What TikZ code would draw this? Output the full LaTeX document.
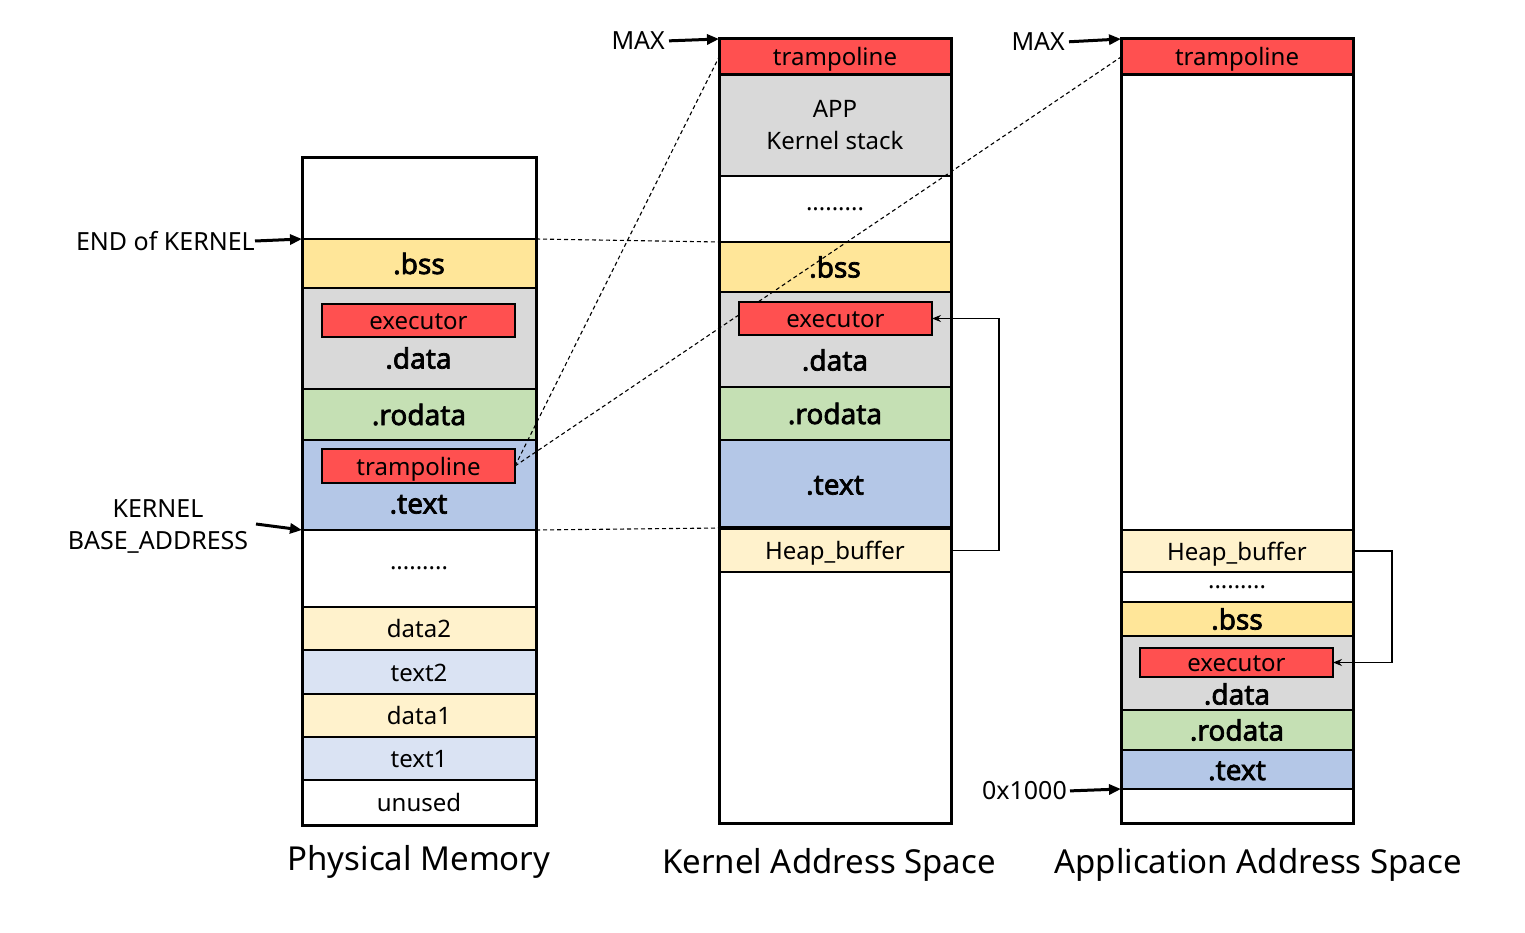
\documentclass[tikz,border=0pt]{standalone}
\usepackage{fontspec}
\setmainfont{Noto Sans}
\newfontfamily\secbold[FakeBold=2.5]{Noto Sans}
\usetikzlibrary{arrows.meta,calc}
\definecolor{cred}{HTML}{FF5050}
\definecolor{cgray}{HTML}{D9D9D9}
\definecolor{cyel}{HTML}{FFE699}
\definecolor{cgreen}{HTML}{C5E0B4}
\definecolor{cblue}{HTML}{B4C7E7}
\definecolor{clyel}{HTML}{FFF2CC}
\definecolor{clblue}{HTML}{DAE3F3}
\begin{document}
\begin{tikzpicture}[x=1pt,y=-1pt,
  sec/.style={draw, line width=2.5pt, anchor=north west, inner sep=0pt, outer sep=0pt, align=center, font=\fontsize{24}{32}\selectfont, text height=18pt, text depth=0pt},
  colL/.style={sec, minimum width=234pt},
  colM/.style={sec, minimum width=232pt},
  colR/.style={sec, minimum width=232pt},
  natural/.style={text height=, text depth=},
  bsec/.style={font=\fontsize{28}{32}\secbold, text height=21pt, text depth=0pt},
  inbox/.style={draw, line width=2.6pt, fill=cred, minimum width=193pt, inner sep=0pt, outer sep=0pt, font=\fontsize{24}{28}\selectfont, text height=18pt, text depth=0pt},
  colframe/.style={line width=3pt},
  bigarrow/.style={line width=3pt, -{Triangle[length=12pt,width=10pt]}},
  mapline/.style={dash pattern=on 4pt off 3pt, line width=1.1pt},
  link/.style={line width=1.6pt, -{Stealth[length=9pt,width=7pt]}},
  lbl/.style={font=\fontsize{25}{32}\selectfont, inner sep=0pt},
  ttl/.style={font=\fontsize{33}{38}\selectfont, inner sep=0pt, text depth=0pt}
]
\useasboundingbox (0,0) rectangle (1525,933);

% ---------- Physical Memory ----------
\node[colL, minimum height=81pt] (L0) at (302,158) {};
\node[colL, bsec, fill=cyel, minimum height=49pt] (Lbss) at (302,239) {.bss};
\node[colL, fill=cgray, minimum height=101pt] (Ldata) at (302,288) {};
\node[colL, bsec, fill=cgreen, minimum height=51pt] (Lro) at (302,389) {.rodata};
\node[colL, fill=cblue, minimum height=90pt] (Ltext) at (302,440) {};
\node[colL, natural, minimum height=77pt] (Ldots) at (302,530) {.........};
\node[colL, fill=clyel, minimum height=43pt] (Ld2) at (302,607) {data2};
\node[colL, fill=clblue, minimum height=44pt] (Lt2) at (302,650) {text2};
\node[colL, fill=clyel, minimum height=43pt] (Ld1) at (302,694) {data1};
\node[colL, fill=clblue, minimum height=43pt] (Lt1) at (302,737) {text1};
\node[colL, minimum height=45pt] (Lun) at (302,780) {unused};
\draw[colframe] (L0.north west) rectangle (Lun.south east);
\node[bsec, inner sep=0pt] (LdataT) at (418.5,358) {.data};
\node[bsec, inner sep=0pt] (LtextT) at (418.5,503) {.text};

% ---------- Kernel Address Space ----------
\node[colM, fill=cred, minimum height=36pt] (Mtr) at (719,39) {trampoline};
\node[colM, natural, fill=cgray, minimum height=101pt] (Mst) at (719,75) {APP\\Kernel stack};
\node[colM, natural, minimum height=66pt] (Mdots) at (719,176) {.........};
\node[colM, bsec, fill=cyel, minimum height=50pt] (Mbss) at (719,242) {.bss};
\node[colM, fill=cgray, minimum height=95pt] (Mdata) at (719,292) {};
\node[colM, bsec, fill=cgreen, minimum height=53pt] (Mro) at (719,387) {.rodata};
\node[colM, bsec, fill=cblue, minimum height=88pt] (Mtext) at (719,440) {.text};
\node[colM, fill=clyel, minimum height=43pt] (Mheap) at (719,529) {Heap\_buffer};
\node[colM, minimum height=251pt] (Mw) at (719,572) {};
\draw[colframe] (Mtr.north west) rectangle (Mw.south east);
\draw[line width=3.5pt] (Mtext.south west) -- (Mtext.south east);
\node[bsec, inner sep=0pt] (MdataT) at (835,360) {.data};

% ---------- Application Address Space ----------
\node[colR, fill=cred, minimum height=36pt] (Rtr) at (1121,39) {trampoline};
\node[colR, minimum height=455pt] (Rw1) at (1121,75) {};
\node[colR, fill=clyel, minimum height=42pt] (Rheap) at (1121,530) {Heap\_buffer};
\node[colR, natural, minimum height=30pt] (Rdots) at (1121,572) {.........};
\node[colR, bsec, fill=cyel, minimum height=34pt] (Rbss) at (1121,602) {.bss};
\node[colR, fill=cgray, minimum height=74pt] (Rdata) at (1121,636) {};
\node[colR, bsec, fill=cgreen, minimum height=40pt] (Rro) at (1121,710) {.rodata};
\node[colR, bsec, fill=cblue, minimum height=39pt] (Rtext) at (1121,750) {.text};
\node[colR, minimum height=34pt] (Rw2) at (1121,789) {};
\draw[colframe] (Rtr.north west) rectangle (Rw2.south east);
\draw[colframe] (Rtr.north west) rectangle (Rtr.south east);
\draw[colframe] (Mtr.north west) rectangle (Mtr.south east);
\node[bsec, inner sep=0pt] (RdataT) at (1237,694) {.data};

% ---------- mapping lines ----------
\node[inbox, minimum height=34pt] (Ltr) at (418.5,466) {trampoline};
\draw[mapline] (Lbss.north east) -- (Mbss.north west);
\draw[mapline] (Ltext.south east) -- (Mtext.south west);
\draw[mapline] (Ltr.east) -- (Mtr.west);
\draw[mapline] (Ltr.east) -- (Rtr.west);

% ---------- inner boxes ----------
\node[inbox, minimum height=33pt] (Lexe) at (418.5,320.5) {executor};
\node[inbox, minimum height=33pt] (Mexe) at (835.5,318.5) {executor};
\node[inbox, minimum height=29pt] (Rexe) at (1236.5,662.5) {executor};

% ---------- links ----------
\draw[link] (Mheap.east) -- ++(48,0) |- (Mexe.east);
\draw[link] (Rheap.east) -- ++(39,0) |- (Rexe.east);

% ---------- labels and arrows ----------
\node[lbl, anchor=east] (endk) at (255,241) {END of KERNEL};
\draw[bigarrow] (endk.east) -- (Lbss.north west);
\node[lbl, align=center] (kba) at (158,526) {KERNEL\\BASE\_ADDRESS};
\coordinate (kbaS) at (256,524);
\draw[bigarrow] (kbaS) -- (Ltext.south west);
\node[lbl, anchor=east] (maxk) at (665,41) {MAX};
\draw[bigarrow, shorten <=4pt] (maxk.east) -- (Mtr.north west);
\node[lbl, anchor=east] (maxa) at (1065,42) {MAX};
\draw[bigarrow, shorten <=4pt] (maxa.east) -- (Rtr.north west);
\node[lbl, anchor=east] (base) at (1067,791) {0x1000};
\draw[bigarrow, shorten <=3pt] (base.east) -- (Rtext.south west);

% ---------- titles ----------
\node[ttl] (tP) at (419,858) {Physical Memory};
\node[ttl] (tK) at (829,861) {Kernel Address Space};
\node[ttl] (tA) at (1258,861) {Application Address Space};
\end{tikzpicture}
\end{document}
